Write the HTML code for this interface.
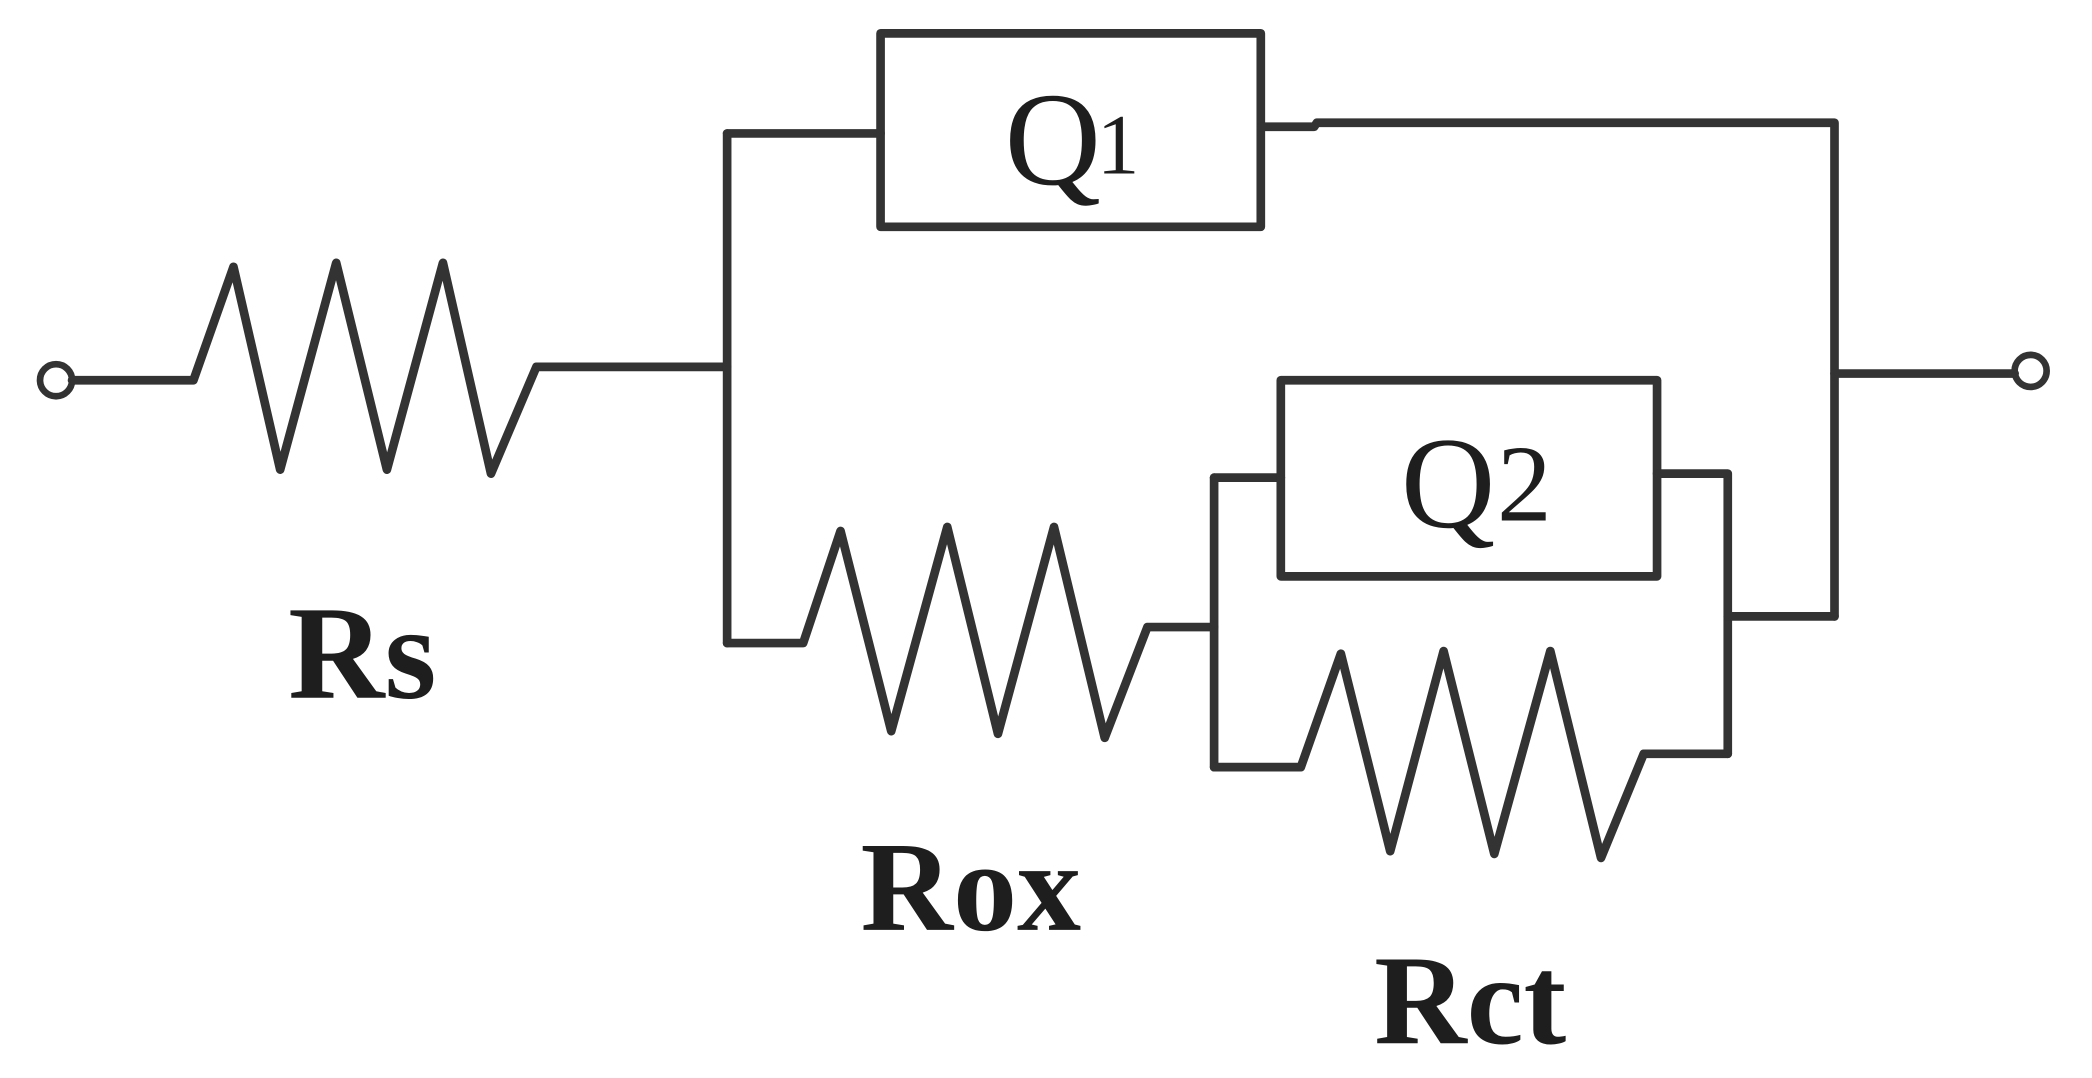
<!DOCTYPE html>
<html><head><meta charset="utf-8"><style>
html,body{margin:0;padding:0;background:#fff;}
svg{display:block;}
text{font-family:"Liberation Serif",serif;fill:#1e1e1e;}
</style></head><body>
<svg width="2092" height="1078" viewBox="0 0 1568 808" preserveAspectRatio="none" xmlns="http://www.w3.org/2000/svg">
<g fill="none" stroke="#333" stroke-width="6.5" stroke-linejoin="round" stroke-linecap="round">
<circle cx="42" cy="285" r="12" stroke-width="5"/>
<polyline points="54,285 145,285 175,200 210,352 252,197 290,352 332,197 368,355 402,275 545,275"/>
<line x1="545" y1="100" x2="545" y2="482"/>
<polyline points="545,100 660,100"/>
<rect x="660" y="25" width="285" height="145"/>
<polyline points="945,95 985,95 987,92 1375,92 1375,462"/>
<polyline points="1375,280 1510,280"/>
<circle cx="1522" cy="278" r="12" stroke-width="5"/>
<polyline points="545,482 602,482 630,398 668,548 710,395 748,550 790,395 828,553 860,470 910,470"/>
<line x1="910" y1="358" x2="910" y2="575"/>
<polyline points="910,358 960,358"/>
<rect x="960" y="285" width="282" height="147"/>
<polyline points="1242,355 1295,355 1295,565"/>
<polyline points="1295,462 1375,462"/>
<polyline points="910,575 975,575 1005,490 1042,638 1082,488 1120,640 1162,488 1200,643 1232,565 1295,565"/>
</g>
<text x="753" y="138" font-size="100">Q</text>
<text x="822" y="130" font-size="64">1</text>
<text x="1050" y="395" font-size="98">Q</text>
<text x="1122" y="390" font-size="82">2</text>
<text x="216" y="523" font-size="100" font-weight="bold">Rs</text>
<text x="645" y="697" font-size="96" font-weight="bold">Rox</text>
<text x="1030" y="782" font-size="96" font-weight="bold">Rct</text>
</svg>
</body></html>
